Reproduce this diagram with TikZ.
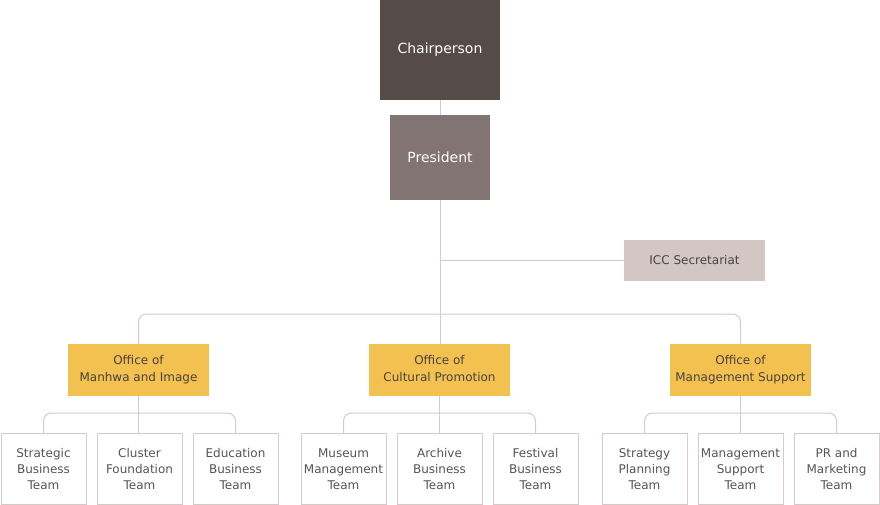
\documentclass[tikz,border=0pt]{standalone}
\usepackage{fontspec}
\setmainfont{DejaVu Sans}
\usetikzlibrary{positioning}
\definecolor{chairc}{HTML}{554C4A}
\definecolor{presc}{HTML}{817472}
\definecolor{iccc}{HTML}{D3C7C6}
\definecolor{officec}{HTML}{F3C14F}
\definecolor{linec}{HTML}{D5C9C9}
\definecolor{textc}{HTML}{4A4242}
\definecolor{teamtc}{HTML}{5A5454}

\begin{document}
\begin{tikzpicture}[x=1pt, y=-1pt, font=\fontsize{12}{16}\selectfont,
  head/.style={align=center, inner sep=0pt, text=white, font=\fontsize{14}{16}\selectfont},
  office/.style={fill=officec, text=textc, align=center, minimum width=141pt, minimum height=52pt, inner sep=0pt, font=\fontsize{12}{17}\selectfont},
  team/.style={draw=linec, line width=1pt, fill=white, text=teamtc, align=center, minimum width=85pt, minimum height=71pt, inner sep=0pt},
  conn/.style={draw=linec, line width=1pt},
  bus/.style={conn, rounded corners=8pt}]
  \useasboundingbox (0,0) rectangle (880,505);
  \node[head, fill=chairc, minimum width=120pt, minimum height=100pt] (chair) at (440,50) {Chairperson};
  \node[head, fill=presc, minimum width=100pt, minimum height=85pt] (pres) at (440,157.5) {President};
  \node[fill=iccc, text=textc, minimum width=141pt, minimum height=41pt, inner sep=0pt] (icc) at (694.5,260.5) {ICC Secretariat};
  \node[office] (omi) at (138.5,370) {Office of\strut\\Manhwa and Image\strut};
  \node[office] (ocp) at (439.5,370) {Office of\strut\\Cultural Promotion\strut};
  \node[office] (oms) at (740.5,370) {Office of\strut\\Management Support\strut};
  % teams
  \node[team] (sbt) at (43.5,469) {Strategic\\Business\\Team};
  \node[team] (cft) at (139.5,469) {Cluster\\Foundation\\Team};
  \node[team] (ebt) at (235.5,469) {Education\\Business\\Team};
  \node[team] (mmt) at (343.5,469) {Museum\\Management\\Team};
  \node[team] (abt) at (439.5,469) {Archive\\Business\\Team};
  \node[team] (fbt) at (535.5,469) {Festival\\Business\\Team};
  \node[team] (spt) at (644.5,469) {Strategy\\Planning\\Team};
  \node[team] (mst) at (740.5,469) {Management\\Support\\Team};
  \node[team] (pmt) at (836.5,469) {PR and\\Marketing\\Team};
  % connectors
  \draw[conn] (chair) -- (pres);
  \draw[conn] (pres.south) -- (pres.south |- ocp.north);
  \draw[conn] (pres.south |- icc.west) -- (icc.west);
  \draw[bus] (omi.north) |- (440,314) -| (oms.north);
  \draw[bus] (sbt.north) |- (140,413) -| (ebt.north); \draw[conn] (omi.south) -- (omi.south |- cft.north);
  \draw[bus] (mmt.north) |- (440,413) -| (fbt.north); \draw[conn] (ocp.south) -- (abt.north);
  \draw[bus] (spt.north) |- (740,413) -| (pmt.north); \draw[conn] (oms.south) -- (mst.north);
\end{tikzpicture}
\end{document}
